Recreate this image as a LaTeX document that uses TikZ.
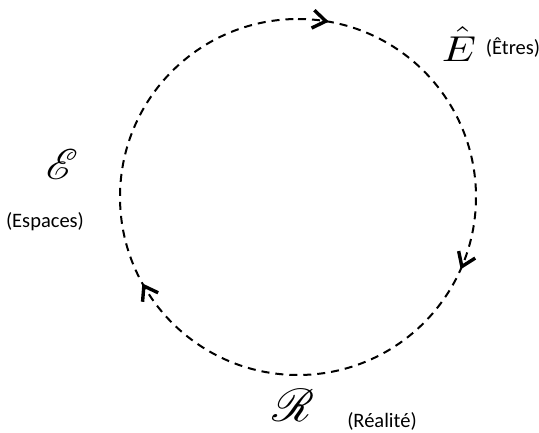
\documentclass[tikz,border=0pt]{standalone}
\usepackage{mathrsfs}
\usepackage{fontspec}
\setmainfont{Carlito}
\usetikzlibrary{arrows.meta}
\begin{document}
\begin{tikzpicture}[x=1pt,y=1pt,
  lbl/.style={inner sep=0pt,font=\fontsize{20.5}{23}\selectfont},
  mth/.style={inner sep=0pt},
  ring/.style={draw=black,line width=2pt,dash pattern=on 8pt off 6pt},
  chev/.style={draw=black,line width=3.4pt,line join=miter,solid}]
\useasboundingbox (0,0) rectangle (539,432);
\coordinate (c) at (298,235);
\draw[ring] (c) ++(90:178pt) arc[start angle=90,end angle=-270,radius=178pt];
% chevrons, pointing clockwise along the circle
\begin{scope}[shift={(c)},rotate=81]
  \draw[chev] (169,13) -- (178,0) -- (187,13);
\end{scope}
\begin{scope}[shift={(c)},rotate=-23]
  \draw[chev] (169,13) -- (178,0) -- (187,13);
\end{scope}
\begin{scope}[shift={(c)},rotate=210]
  \draw[chev] (169,13) -- (178,0) -- (187,13);
\end{scope}
\node[mth] (E) at (459,388) {\scalebox{4.3}[3.6]{$\hat{E}$}};
\node[lbl] (Etres) at (513,384) {(Êtres)};
\node[mth] (Esp) at (62,268) {\scalebox{4.3}{$\mathscr{E}$}};
\node[lbl] (Espaces) at (45,210) {(Espaces)};
\node[mth] (R) at (293,27) {\scalebox{4.6}{$\mathscr{R}$}};
\node[lbl] (Real) at (382,11) {(Réalité)};
\end{tikzpicture}
\end{document}
